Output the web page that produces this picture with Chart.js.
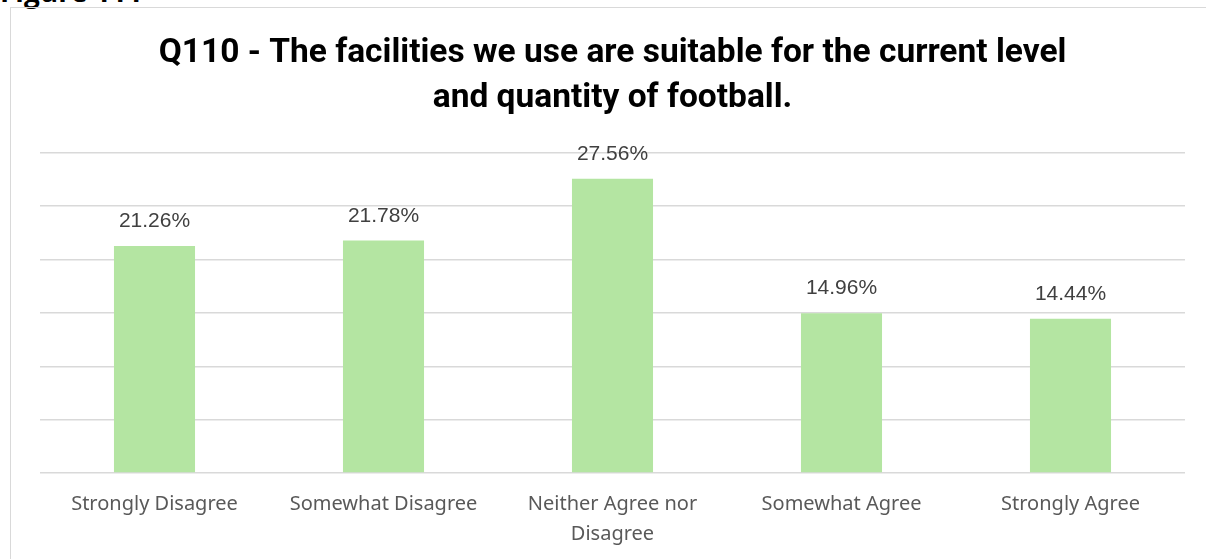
<!DOCTYPE html>
<html>
<head>
<meta charset="utf-8">
<script src="https://cdn.jsdelivr.net/npm/chart.js@4.4.1/dist/chart.umd.min.js"></script>
<style>
  html, body { margin: 0; padding: 0; background: #fff; overflow: hidden; }
  #wrap { position: relative; width: 1206px; height: 559px; }
  #fig { position: absolute; left: 0; top: -28px; font: bold 28px "Open Sans", sans-serif; color: #000; }
  #frame { position: absolute; left: 10px; top: 7px; width: 1210px; height: 560px; border-left: 1.5px solid #d9d9d9; border-top: 1.5px solid #d9d9d9; }
  #c { position: absolute; left: 0; top: 0; }
</style>
</head>
<body>
<div id="wrap">
  <div id="fig">Figure 111</div>
  <div id="frame"></div>
  <canvas id="c" width="1206" height="559"></canvas>
</div>
<script>
const titleLines = ["Q110 - The facilities we use are suitable for the current level", "and quantity of football."];
const categories = ["Strongly Disagree", "Somewhat Disagree", ["Neither Agree nor", "Disagree"], "Somewhat Agree", "Strongly Agree"];
const values = [21.26, 21.78, 27.56, 14.96, 14.44];
const yTicks = [0, 5, 10, 15, 20, 25, 30];

const labelPlugin = {
  id: 'valueLabels',
  afterDatasetsDraw(chart) {
    const ctx = chart.ctx;
    const meta = chart.getDatasetMeta(0);
    ctx.save();
    ctx.font = '21px "Liberation Sans", Arial, sans-serif';
    ctx.fillStyle = '#404040';
    ctx.textAlign = 'center';
    ctx.textBaseline = 'alphabetic';
    meta.data.forEach((bar, i) => {
      ctx.fillText(values[i].toFixed(2) + '%', bar.x, bar.y - 19);
    });
    ctx.restore();
  }
};

new Chart(document.getElementById('c'), {
  type: 'bar',
  data: {
    labels: categories,
    datasets: [{
      data: values,
      backgroundColor: '#b4e5a2',
      borderWidth: 0,
      barPercentage: 0.354,
      categoryPercentage: 1.0
    }]
  },
  options: {
    responsive: false,
    animation: false,
    layout: { padding: { left: 40, right: 21, top: 0, bottom: 0 } },
    plugins: {
      legend: { display: false },
      tooltip: { enabled: false },
      title: {
        display: true,
        text: titleLines,
        color: '#000',
        font: { family: 'Roboto', size: 33.5, weight: 'bold', lineHeight: 1.34 },
        padding: { top: 31, bottom: 32 }
      }
    },
    scales: {
      x: {
        grid: { display: false, drawTicks: false },
        border: { display: false },
        afterFit(axis) { axis.height = 86; },
        ticks: {
          color: '#595959',
          font: { family: '"Noto Sans"', size: 20, lineHeight: 1.5 },
          padding: 16,
          maxRotation: 0,
          autoSkip: false
        }
      },
      y: {
        min: yTicks[0],
        max: yTicks[yTicks.length - 1],
        afterBuildTicks(axis) { axis.ticks = yTicks.map(v => ({ value: v })); },
        ticks: { display: false },
        grid: { color: '#d9d9d9', lineWidth: 1.5, drawTicks: false },
        border: { display: false }
      }
    }
  },
  plugins: [labelPlugin]
});
</script>
</body>
</html>
